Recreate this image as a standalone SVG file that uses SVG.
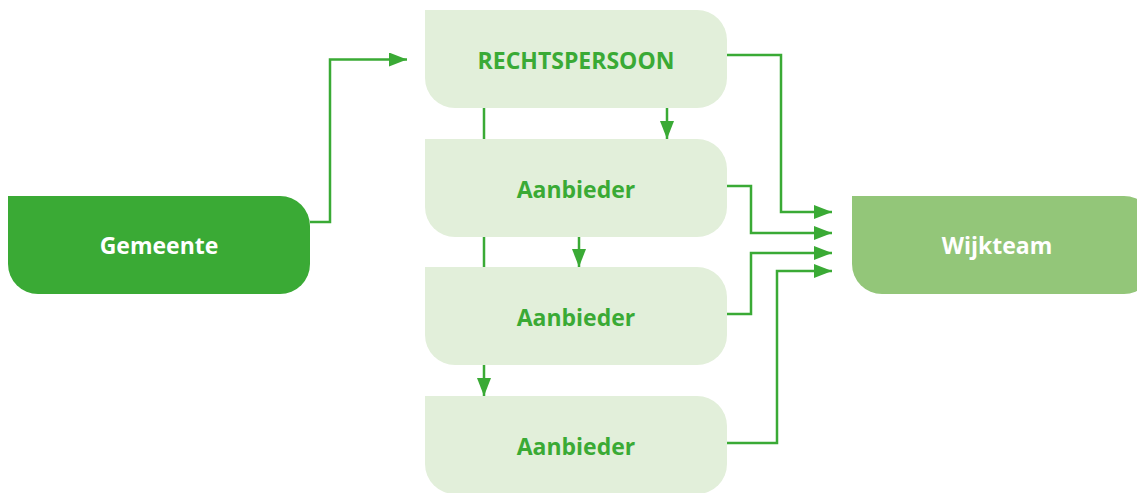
<svg xmlns="http://www.w3.org/2000/svg" width="1137" height="493" viewBox="0 0 1137 493">
  <style>
    .lbl { font-family: "Open Sans", "Noto Sans", "DejaVu Sans", sans-serif; font-weight: bold; font-size: 23px; text-anchor: middle; }
    .dark { fill: #3aaa35; }
    .light { fill: #e2efda; }
    .mid { fill: #93c679; }
    .txt-white { fill: #ffffff; }
    .txt-green { fill: #3aaa35; }
    .wire { fill: none; stroke: #3aaa35; stroke-width: 2.5; }
  </style>
  <defs>
    <marker id="arrow" markerUnits="userSpaceOnUse" markerWidth="18" markerHeight="14" refX="18" refY="7" orient="auto">
      <path d="M0,0 L18,7 L0,14 Z" fill="#3aaa35"/>
    </marker>
    <!-- box with square top-left corner, other corners rounded (r=30) -->
    <path id="box" d="M0,0 H272 A30,30 0 0 1 302,30 V68 A30,30 0 0 1 272,98 H30 A30,30 0 0 1 0,68 Z"/>
  </defs>

  <g id="connectors">
    <path class="wire" d="M310,222 H330 V59.5 H407" marker-end="url(#arrow)"/>
    <path class="wire" d="M484,108 V396" marker-end="url(#arrow)"/>
    <path class="wire" d="M667,108 V139" marker-end="url(#arrow)"/>
    <path class="wire" d="M579,237 V267" marker-end="url(#arrow)"/>
    <path class="wire" d="M727,55 H781 V212 H832" marker-end="url(#arrow)"/>
    <path class="wire" d="M727,186 H751 V233 H832" marker-end="url(#arrow)"/>
    <path class="wire" d="M727,314 H751 V253 H832" marker-end="url(#arrow)"/>
    <path class="wire" d="M727,443 H777 V271 H832" marker-end="url(#arrow)"/>
  </g>

  <g id="gemeente">
    <use href="#box" x="8" y="196" class="dark"/>
    <text class="lbl txt-white" x="159" y="254">Gemeente</text>
  </g>

  <g id="rechtspersoon">
    <use href="#box" x="425" y="10" class="light"/>
    <text class="lbl txt-green" x="576" y="69">RECHTSPERSOON</text>
  </g>

  <g id="aanbieder-1">
    <use href="#box" x="425" y="139" class="light"/>
    <text class="lbl txt-green" x="576" y="198">Aanbieder</text>
  </g>

  <g id="aanbieder-2">
    <use href="#box" x="425" y="267" class="light"/>
    <text class="lbl txt-green" x="576" y="326">Aanbieder</text>
  </g>

  <g id="aanbieder-3">
    <use href="#box" x="425" y="396" class="light"/>
    <text class="lbl txt-green" x="576" y="455">Aanbieder</text>
  </g>

  <g id="wijkteam">
    <use href="#box" x="852" y="196" class="mid"/>
    <text class="lbl txt-white" x="997" y="254">Wijkteam</text>
  </g>
</svg>
